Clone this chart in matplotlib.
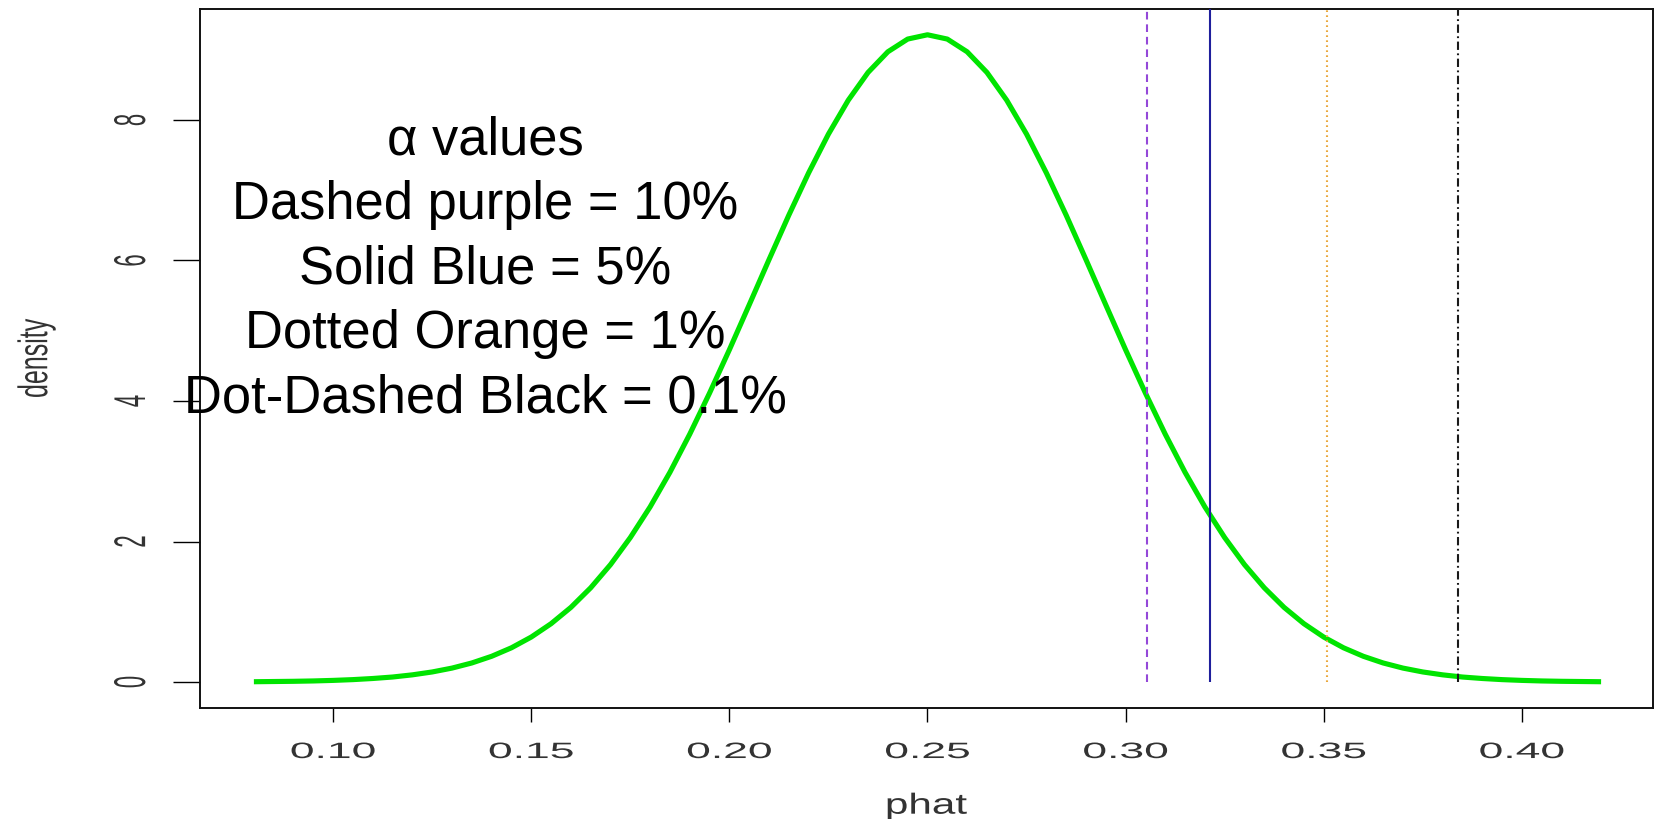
import matplotlib
matplotlib.use("Agg")
import matplotlib.pyplot as plt
from matplotlib import patheffects
from matplotlib.transforms import Affine2D

phat = [0.080, 0.085, 0.090, 0.095, 0.100, 0.105, 0.110, 0.115, 0.120, 0.125,
        0.130, 0.135, 0.140, 0.145, 0.150, 0.155, 0.160, 0.165, 0.170, 0.175,
        0.180, 0.185, 0.190, 0.195, 0.200, 0.205, 0.210, 0.215, 0.220, 0.225,
        0.230, 0.235, 0.240, 0.245, 0.250, 0.255, 0.260, 0.265, 0.270, 0.275,
        0.280, 0.285, 0.290, 0.295, 0.300, 0.305, 0.310, 0.315, 0.320, 0.325,
        0.330, 0.335, 0.340, 0.345, 0.350, 0.355, 0.360, 0.365, 0.370, 0.375,
        0.380, 0.385, 0.390, 0.395, 0.400, 0.405, 0.410, 0.415, 0.420]
density = [0.004, 0.007, 0.010, 0.015, 0.023, 0.034, 0.050, 0.071, 0.102, 0.143,
           0.198, 0.271, 0.366, 0.487, 0.640, 0.830, 1.062, 1.341, 1.671, 2.056,
           2.493, 2.985, 3.528, 4.113, 4.729, 5.368, 6.012, 6.645, 7.247, 7.799,
           8.281, 8.677, 8.971, 9.152, 9.213, 9.152, 8.971, 8.677, 8.281, 7.799,
           7.247, 6.645, 6.012, 5.368, 4.729, 4.113, 3.528, 2.985, 2.493, 2.056,
           1.671, 1.341, 1.062, 0.830, 0.640, 0.487, 0.366, 0.271, 0.198, 0.143,
           0.102, 0.071, 0.050, 0.034, 0.023, 0.015, 0.010, 0.007, 0.004]

# critical values for alpha = 10%, 5%, 1%, 0.1%
crit_values = [0.3055, 0.3212, 0.3507, 0.3838]
crit_colors = ["#9448d8", "#1f1f9c", "#eaa83c", "#1a1a1a"]

xticks = [0.10, 0.15, 0.20, 0.25, 0.30, 0.35, 0.40]
yticks = [0, 2, 4, 6, 8]

legend_lines = ["\u03b1 values",
                "Dashed purple = 10%",
                "Solid Blue = 5%",
                "Dotted Orange = 1%",
                "Dot-Dashed Black = 0.1%"]


class Stretch(patheffects.AbstractPathEffect):
    # the original picture is stretched sideways, so stretch glyphs around their centre
    def __init__(self, sx=1.0, sy=1.0):
        super().__init__()
        self.sx, self.sy = sx, sy

    def draw_path(self, renderer, gc, tpath, affine, rgbFace=None):
        box = tpath.get_extents(affine)
        cx = box.x0 + box.width / 2
        cy = box.y0 + box.height / 2
        st = Affine2D().translate(-cx, -cy).scale(self.sx, self.sy).translate(cx, cy)
        renderer.draw_path(gc, tpath, affine + st, rgbFace)


plt.rcParams["font.family"] = ["Liberation Sans", "DejaVu Sans"]
plt.rcParams["lines.scale_dashes"] = False

W, H = 1662, 819
fig = plt.figure(figsize=(W / 100, H / 100), dpi=100)
ax = fig.add_axes([200 / W, 1 - 708 / H, (1653 - 200) / W, (708 - 9) / H])

ax.plot(phat, density, color="#00e400", lw=3.7, solid_capstyle="butt", zorder=2)

styles = [(0, (5.5, 3.5)), "solid", (0, (1.2, 2.4)), (0, (6, 2.5, 1.3, 2.5))]
for xv, col, ls in zip(crit_values, crit_colors, styles):
    ax.vlines(xv, 0, 10, colors=col, linestyles=[ls], lw=1.5, zorder=3)

ax.set_xlim(0.0664, 0.4331)
ax.set_ylim(-0.37, 9.58)

ax.set_xticks(xticks)
ax.set_xticklabels(["%.2f" % v for v in xticks])
ax.set_yticks(yticks)
ax.set_yticklabels([str(v) for v in yticks])

ax.tick_params(axis="x", length=10, width=1, pad=14.5, labelsize=16, labelcolor="#333333")
ax.tick_params(axis="y", length=19.5, width=1, pad=22, labelsize=16, labelcolor="#333333",
               labelrotation=90)
for lab in ax.get_yticklabels():
    lab.set_va("center")

for s in ax.spines.values():
    s.set_linewidth(1.4)
    s.set_color("#111111")

small = [Stretch(2.0, 1.0)]
for lab in ax.get_xticklabels() + ax.get_yticklabels():
    lab.set_path_effects(small)

ax.set_xlabel("phat", fontsize=19, color="#333333")
ax.xaxis.set_label_coords(0.5, -(806 - 708) / (708 - 9))
ax.xaxis.label.set_va("center")
ax.xaxis.label.set_path_effects([Stretch(1.6, 1.1)])

ax.set_ylabel("density", fontsize=18, color="#333333")
ax.yaxis.set_label_coords((36 - 200) / (1653 - 200), 0.5)
ax.yaxis.label.set_va("center")
ax.yaxis.label.set_ha("center")
ax.yaxis.label.set_path_effects([Stretch(1.65, 1.0)])

# the alpha legend, one line at a time
for i, line in enumerate(legend_lines):
    ax.annotate(line, (0.1384, 7.51), xytext=(0, -i * 46.4), textcoords="offset points",
                ha="center", va="baseline", fontsize=37.8, color="black", zorder=4)

fig.savefig("out.png", dpi=100)
